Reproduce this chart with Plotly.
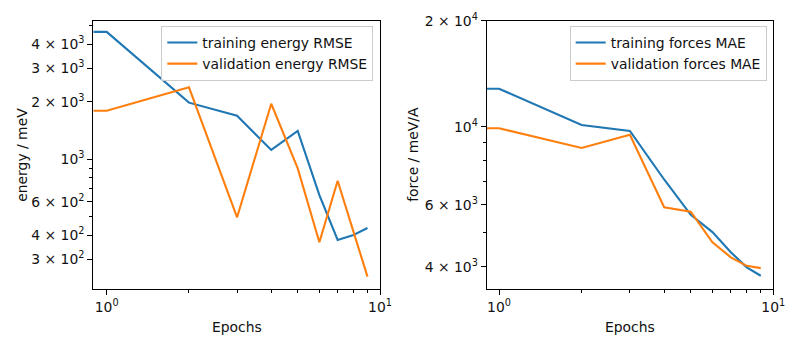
import plotly.graph_objects as go

# ---------------- data ----------------
epochs = [1, 2, 3, 4, 5, 6, 7, 8, 9]
train_energy_rmse = [4650, 1980, 1690, 1120, 1407, 650, 378, 402, 437]
valid_energy_rmse = [1797, 2383, 497, 1954, 897, 368, 772, 417, 243]
train_forces_mae = [12820, 10110, 9723, 7080, 5620, 5020, 4400, 3985, 3773]
valid_forces_mae = [9897, 8700, 9490, 5904, 5736, 4694, 4256, 4025, 3966]

# tick labels
e_major_vals = [300, 400, 600, 1000, 2000, 3000, 4000]
e_major_text = ["3 × 10<sup>2</sup>", "4 × 10<sup>2</sup>", "6 × 10<sup>2</sup>", "10<sup>3</sup>",
                "2 × 10<sup>3</sup>", "3 × 10<sup>3</sup>", "4 × 10<sup>3</sup>"]
e_minor_vals = [500, 700, 800, 900, 5000]
f_major_vals = [4000, 6000, 10000, 20000]
f_major_text = ["4 × 10<sup>3</sup>", "6 × 10<sup>3</sup>", "10<sup>4</sup>", "2 × 10<sup>4</sup>"]
f_minor_vals = [5000, 7000, 8000, 9000]
x_major_vals = [1, 10]
x_major_text = ["10<sup>0</sup>", "10<sup>1</sup>"]
x_minor_vals = [2, 3, 4, 5, 6, 7, 8, 9]

# ---------------- layout constants ----------------
W, H = 800, 350
FONT = "DejaVu Sans"
FS = 13.9
TXT = "#111111"
BLUE, ORANGE = "#1f77b4", "#ff7f0e"

# axis ranges (log10)
xr_left = [-0.049, 1.0]
xr_right = [-0.045, 1.0]
yr_left = [2.321, 3.7257]
yr_right = [3.539, 4.301]

def px_x(p):
    return p / W

def px_y(p):
    return 1 - p / H

fig = go.Figure()

def lead(xs, ys, xlo):
    # matplotlib-like clip of the epoch-0 point to the left axis edge
    return [10 ** xlo] + list(xs), [ys[0]] + list(ys)

for name, ys, col in [("training energy RMSE", train_energy_rmse, BLUE),
                      ("validation energy RMSE", valid_energy_rmse, ORANGE)]:
    xx, yy = lead(epochs, ys, xr_left[0])
    fig.add_trace(go.Scatter(x=xx, y=yy, mode="lines", name=name,
                             line=dict(color=col, width=2.1),
                             xaxis="x", yaxis="y", legend="legend"))

for name, ys, col in [("training forces MAE", train_forces_mae, BLUE),
                      ("validation forces MAE", valid_forces_mae, ORANGE)]:
    xx, yy = lead(epochs, ys, xr_right[0])
    fig.add_trace(go.Scatter(x=xx, y=yy, mode="lines", name=name,
                             line=dict(color=col, width=2.1),
                             xaxis="x2", yaxis="y2", legend="legend2"))

common = dict(type="log", showgrid=False, zeroline=False, showline=True,
              linecolor="black", linewidth=1.1, mirror=True, ticks="outside",
              ticklen=5, tickwidth=1.1, tickcolor="black", automargin=False,
              tickfont=dict(family=FONT, size=FS, color=TXT))

minor_common = dict(ticks="outside", ticklen=3, tickwidth=0.8, tickcolor="black",
                    showgrid=False, tickmode="array")

ydom = [px_y(289), px_y(20.7)]

fig.update_layout(
    width=W, height=H,
    margin=dict(l=0, r=0, t=0, b=0, autoexpand=False),
    paper_bgcolor="white", plot_bgcolor="white",
    font=dict(family=FONT, size=FS, color=TXT),
    showlegend=True,
    xaxis=dict(**common, domain=[px_x(93.3), px_x(380)], range=xr_left,
               tickmode="array", tickvals=x_major_vals, ticktext=x_major_text,
               minor=dict(**minor_common, tickvals=x_minor_vals), anchor="y"),
    yaxis=dict(**common, domain=ydom, range=yr_left,
               tickmode="array", tickvals=e_major_vals, ticktext=e_major_text,
               minor=dict(**minor_common, tickvals=e_minor_vals), anchor="x"),
    xaxis2=dict(**common, domain=[px_x(486.7), px_x(773.3)], range=xr_right,
                tickmode="array", tickvals=x_major_vals, ticktext=x_major_text,
                minor=dict(**minor_common, tickvals=x_minor_vals), anchor="y2"),
    yaxis2=dict(**common, domain=ydom, range=yr_right,
                tickmode="array", tickvals=f_major_vals, ticktext=f_major_text,
                minor=dict(**minor_common, tickvals=f_minor_vals), anchor="x2"),
    legend=dict(x=px_x(373.3), xanchor="right", y=px_y(26), yanchor="top",
                bgcolor="rgba(255,255,255,0.8)", bordercolor="#cccccc", borderwidth=1,
                font=dict(family=FONT, size=FS, color=TXT),
                tracegroupgap=0, itemwidth=30),
    legend2=dict(x=px_x(766.7), xanchor="right", y=px_y(26), yanchor="top",
                 bgcolor="rgba(255,255,255,0.8)", bordercolor="#cccccc", borderwidth=1,
                 font=dict(family=FONT, size=FS, color=TXT),
                 tracegroupgap=0, itemwidth=30),
)

annos = [
    dict(text="energy / meV", x=px_x(22), y=px_y(154.8), textangle=-90),
    dict(text="force / meV/A", x=px_x(413), y=px_y(154.8), textangle=-90),
    dict(text="Epochs", x=px_x(236.7), y=px_y(327)),
    dict(text="Epochs", x=px_x(630), y=px_y(327)),
]
for a in annos:
    fig.add_annotation(xref="paper", yref="paper", showarrow=False,
                       xanchor="center", yanchor="middle",
                       font=dict(family=FONT, size=FS, color=TXT), **a)

fig.write_html("out.html")
